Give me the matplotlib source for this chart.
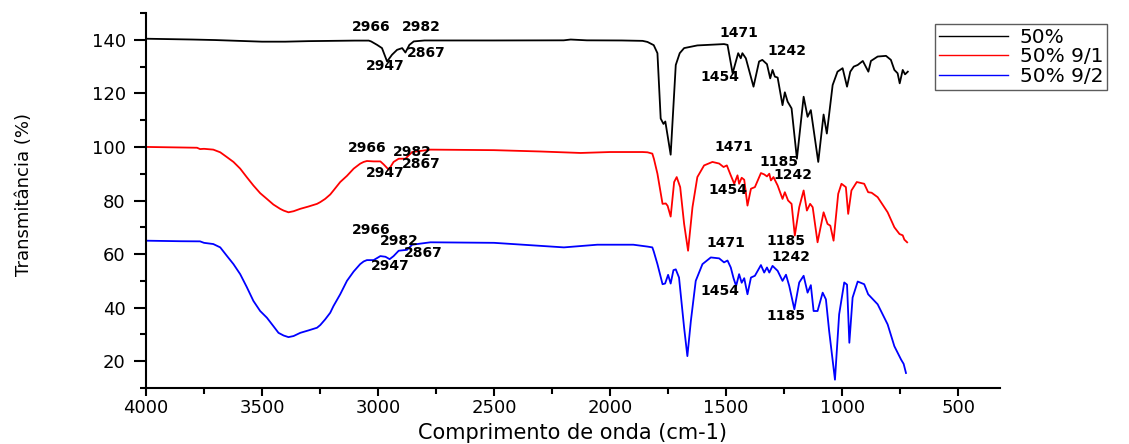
import matplotlib
matplotlib.use("Agg")
import matplotlib.pyplot as plt
from matplotlib.ticker import MultipleLocator

# wavenumber (cm-1) / transmittance (%)
wn_50 = [4000, 3800, 3700, 3600, 3500, 3400, 3300, 3200, 3100, 3040, 3030, 3004, 2983, 2961,
         2940, 2918, 2896, 2882, 2865, 2846, 2800, 2500, 2200, 2170, 2100, 1950, 1860, 1839,
         1812, 1796, 1782, 1770, 1762, 1739, 1717, 1700, 1681, 1624, 1509, 1494, 1472, 1458,
         1448, 1437, 1430, 1415, 1382, 1358, 1344, 1324, 1310, 1300, 1290, 1278, 1257, 1247,
         1235, 1218, 1195, 1166, 1149, 1135, 1103, 1080, 1066, 1041, 1020, 998, 979, 965, 950,
         933, 911, 887, 876, 847, 811, 790, 775, 761, 752, 739, 729, 717]
t_50 = [140.4, 140.1, 139.9, 139.6, 139.3, 139.3, 139.5, 139.6, 139.7, 139.7, 139.4, 138.1,
        136.9, 131.9, 134.4, 136.25, 136.9, 135.25, 138.1, 139.4, 139.75, 139.75, 139.8, 140.1,
        139.8, 139.75, 139.6, 139.2, 138.0, 135.0, 110.6, 108.6, 109.5, 97.1, 130.6, 135.0,
        136.9, 137.9, 138.4, 138.1, 127.5, 131.9, 135.0, 133.1, 135.0, 133.1, 122.5, 131.9,
        132.5, 130.9, 125.6, 128.75, 126.25, 125.9, 115.6, 120.4, 116.9, 114.4, 95.6, 118.75,
        111.25, 113.75, 94.4, 112.1, 105.0, 123.1, 128.1, 129.4, 122.5, 128.1, 130.0, 130.6,
        132.1, 128.1, 132.1, 133.75, 134.0, 132.5, 128.75, 127.5, 123.75, 128.75, 127.1, 128.1]

wn_91 = [4000, 3850, 3780, 3767, 3750, 3710, 3680, 3652, 3623, 3594, 3566, 3537, 3508, 3479,
         3451, 3422, 3407, 3386, 3364, 3335, 3300, 3263, 3249, 3228, 3206, 3192, 3163, 3134,
         3105, 3077, 3062, 3048, 3019, 2990, 2976, 2954, 2933, 2911, 2882, 2872,
         2853, 2774, 2500, 2300, 2127, 2000, 1860, 1839, 1818, 1811, 1796, 1774, 1760, 1752,
         1739, 1724, 1713, 1698, 1681, 1664, 1645, 1624, 1595, 1559, 1530, 1511, 1497, 1480,
         1465, 1451, 1444, 1433, 1422, 1408, 1393, 1376, 1350, 1336, 1324, 1314, 1307, 1296,
         1278, 1257, 1247, 1233, 1218, 1204, 1185, 1166, 1152, 1138, 1127, 1106, 1080, 1063,
         1051, 1037, 1017, 1003, 984, 974, 960, 937, 905, 888, 873, 847, 804, 775, 753, 739,
         732, 720]
t_91 = [100.0, 99.8, 99.7, 99.2, 99.3, 99.0, 98.0, 96.25, 94.4, 91.9, 88.75, 85.6, 82.75, 80.6,
        78.5, 76.9, 76.25, 75.6, 76.0, 76.9, 77.75, 78.75, 79.4, 80.6, 82.25, 83.75, 86.9, 89.2,
        91.9, 93.75, 94.4, 94.75, 94.6, 94.6, 93.5, 91.5, 94.4, 95.6, 95.6, 96.5,
        98.1, 99.0, 98.8, 98.3, 97.75, 98.1, 98.1, 98.0, 97.5, 95.5, 90.0, 78.75, 78.9, 78.0,
        74.0, 86.9, 88.75, 85.0, 71.25, 61.25, 77.5, 88.75, 93.1, 94.4, 93.8, 92.5, 93.1, 89.4,
        86.25, 89.4, 86.25, 88.5, 87.75, 78.1, 84.4, 85.0, 90.25, 89.75, 89.0, 90.0, 87.5, 88.75,
        85.6, 80.6, 83.1, 80.0, 78.75, 66.9, 77.5, 83.75, 76.25, 78.75, 77.5, 64.4, 75.6, 71.25,
        70.6, 65.0, 82.5, 86.25, 85.0, 75.0, 83.75, 86.9, 86.25, 83.1, 82.9, 81.25, 75.6, 70.0,
        67.5, 67.0, 65.4, 64.4]

wn_92 = [4000, 3850, 3767, 3750, 3710, 3680, 3652, 3623, 3594, 3566, 3537, 3508, 3479, 3451,
         3429, 3407, 3386, 3364, 3335, 3300, 3263, 3249, 3228, 3206, 3192, 3163, 3134, 3105,
         3077, 3062, 3048, 3019, 2990, 2968, 2950, 2933, 2911, 2875, 2853, 2774,
         2500, 2199, 2055, 1900, 1839, 1818, 1812, 1796, 1774, 1763, 1750, 1739, 1727, 1717,
         1703, 1681, 1667, 1652, 1631, 1602, 1566, 1530, 1509, 1494, 1480, 1468, 1457, 1444,
         1433, 1422, 1408, 1393, 1376, 1350, 1336, 1324, 1314, 1300, 1278, 1257, 1242, 1228,
         1206, 1185, 1166, 1149, 1135, 1123, 1106, 1084, 1070, 1056, 1031, 1013, 991, 979, 969,
         955, 933, 905, 888, 847, 804, 775, 746, 735, 725]
t_92 = [65.0, 64.8, 64.75, 64.2, 63.75, 62.5, 59.4, 56.25, 52.5, 47.75, 42.5, 38.75, 36.25, 33.1,
        30.6, 29.6, 29.0, 29.4, 30.6, 31.5, 32.5, 33.5, 35.6, 38.1, 40.6, 45.0, 50.0, 53.5,
        56.25, 57.25, 57.75, 57.75, 59.25, 59.0, 58.1, 59.25, 61.25, 61.6, 63.5, 64.4,
        64.2, 62.5, 63.5, 63.5, 62.8, 62.5, 61.0, 56.25, 48.75, 49.0, 52.25, 49.0, 54.0, 54.3,
        51.25, 32.5, 21.9, 35.0, 50.0, 56.25, 58.75, 58.4, 56.9, 57.6, 55.0, 51.0, 48.1, 52.5,
        49.3, 51.0, 45.0, 51.25, 51.9, 55.9, 53.1, 55.0, 53.1, 55.6, 53.75, 50.0, 52.3, 48.1,
        39.4, 49.4, 51.9, 45.6, 48.4, 38.75, 38.75, 45.6, 43.1, 31.25, 13.1, 37.5, 49.4, 48.6,
        26.9, 43.75, 49.75, 48.75, 45.0, 41.25, 33.75, 25.6, 20.6, 19.0, 15.6]

# peak labels: (text, x, y)
labels_50 = [("2966", 3029, 144.9), ("2982", 2813, 144.9), ("2947", 2969, 130.3),
             ("2867", 2792, 135.1), ("1471", 1445, 142.6), ("1454", 1527, 126.1),
             ("1242", 1238, 135.9)]
labels_91 = [("2966", 3046, 99.5), ("2982", 2852, 98.0), ("2947", 2969, 90.1),
             ("2867", 2813, 93.5), ("1471", 1467, 99.9), ("1454", 1493, 83.75),
             ("1185", 1273, 94.25), ("1242", 1212, 89.4)]
labels_92 = [("2966", 3029, 69.1), ("2982", 2908, 65.0), ("2947", 2947, 55.6),
             ("2867", 2805, 60.5), ("1471", 1501, 64.25), ("1454", 1527, 46.25),
             ("1185", 1242, 65.0), ("1242", 1220, 59.0), ("1185", 1242, 36.9)]

plt.rcParams['font.family'] = ['DejaVu Sans']

fig = plt.figure(figsize=(11.29, 4.44), dpi=100)
ax = fig.add_axes([0.1293, 0.1261, 0.7564, 0.8446])

l1, = ax.plot(wn_50, t_50, color='black', lw=1.3, label='50%')
l2, = ax.plot(wn_91, t_91, color='red', lw=1.3, label='50% 9/1')
l3, = ax.plot(wn_92, t_92, color='blue', lw=1.3, label='50% 9/2')

for txt, x, y in labels_50 + labels_91 + labels_92:
    ax.text(x, y, txt, ha='center', va='center', fontsize=10, fontweight='bold')

ax.set_xlim(4000, 320)
ax.set_ylim(10, 150)
ax.xaxis.set_minor_locator(MultipleLocator(250))
ax.yaxis.set_minor_locator(MultipleLocator(10))
ax.set_yticks([20, 40, 60, 80, 100, 120, 140])
ax.set_xticks([4000, 3500, 3000, 2500, 2000, 1500, 1000, 500])

for s in ['top', 'right']:
    ax.spines[s].set_visible(False)
for s in ['left', 'bottom']:
    ax.spines[s].set_linewidth(1.5)
ax.tick_params(axis='y', which='major', direction='out', length=8.5, width=1.5,
               labelsize=13, pad=6)
ax.tick_params(axis='x', which='major', direction='out', length=6, width=1.5,
               labelsize=13, pad=2)
ax.tick_params(which='minor', direction='out', length=4.5, width=1.5)

ax.set_xlabel('Comprimento de onda (cm-1)', fontsize=15, va='top')
ax.xaxis.set_label_coords(0.5, -0.093)
ax.set_ylabel('Transmitância (%)', fontsize=13, va='center')
ax.yaxis.set_label_coords(-0.143, 0.515)

leg = fig.legend(handles=[l1, l2, l3], loc='upper left',
                 bbox_to_anchor=(935 / 1129, 1 - 24 / 444), fontsize=14.5,
                 frameon=True, fancybox=False, handlelength=3.4, labelspacing=0.02,
                 borderpad=0.2, handletextpad=0.6, borderaxespad=0)
leg.get_frame().set_edgecolor('#333333')
leg.get_frame().set_linewidth(1.0)
for h in leg.get_lines():
    h.set_linewidth(1.0)

fig.savefig('out.png', dpi=100)
